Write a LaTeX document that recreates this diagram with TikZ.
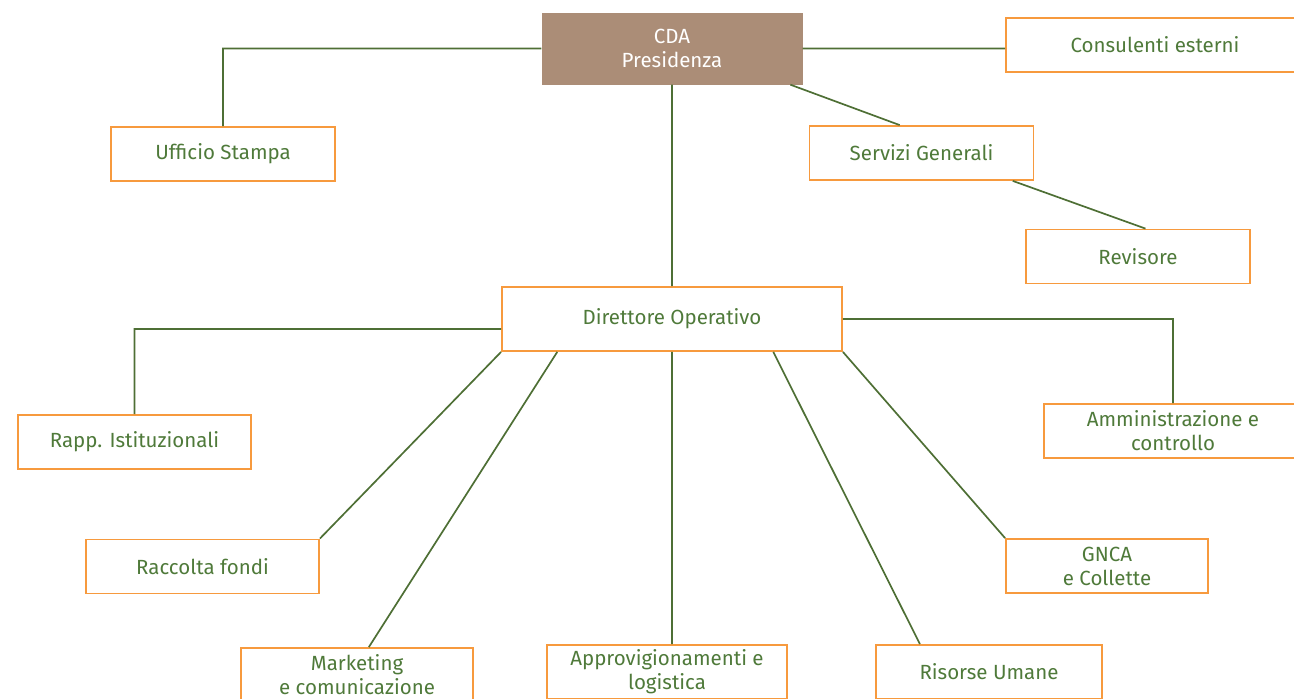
\documentclass[tikz,border=0pt]{standalone}
\usepackage{fontspec}
\setmainfont{Fira Sans}
\usepackage{tikz}
\usetikzlibrary{positioning}

\definecolor{boxorange}{HTML}{F79A3E}
\definecolor{textgreen}{HTML}{4F7A3A}
\definecolor{linegreen}{HTML}{4E6F35}
\definecolor{cdabrown}{HTML}{AB8D77}

\begin{document}
\begin{tikzpicture}[x=1pt,y=-1pt,on grid,
    unit/.style={draw=boxorange,line width=1.8pt,fill=white,text=textgreen,
      minimum width=224pt,minimum height=54pt,align=center,inner sep=0pt,
      font=\fontsize{20.5}{24}\selectfont},
    top/.style={fill=cdabrown,text=white,minimum width=261pt,minimum height=72pt,
      align=center,inner sep=0pt,font=\fontsize{20.5}{24}\selectfont},
    link/.style={draw=linegreen,line width=1.7pt}]
    \useasboundingbox (0,0) rectangle (1294,699);
    \node[top] (cda) at (672,48.5) {CDA\\Presidenza};
    \node[unit,minimum width=298pt] (cons) at (1155,45) {Consulenti esterni};
    \node[unit] (uff)  at (223,154)   {Ufficio Stampa};
    \node[unit] (serv) at (921.5,153) {Servizi Generali};
    \node[unit] (rev)  at (1138,256.5){Revisore};
    \node[unit,minimum width=340pt,minimum height=64pt] (dir) at (672,319) {Direttore Operativo};
    \node[unit,minimum width=233pt] (rapp) at (134.5,442) {Rapp. Istituzionali};
    \node[unit,minimum width=258pt] (amm)  at (1173,431)  {Amministrazione e\\controllo};
    \node[unit,minimum width=233pt] (racc) at (202.5,566.5) {Raccolta fondi};
    \node[unit,minimum width=202pt] (gnca) at (1107,566)  {GNCA\\e Collette};
    \node[unit,minimum width=232pt] (mark) at (357,675)   {Marketing\\e comunicazione};
    \node[unit,minimum width=240pt] (appr) at (667,672)   {Approvigionamenti e\\logistica};
    \node[unit,minimum width=226pt] (ris)  at (989,672)   {Risorse Umane};
    \path[link]
    % top level
    (cda.west) -| (uff.north)
    (cda.east) -- (cda.east -| cons.west)
    (cda.-17.2) -- (serv.128.5)
    (serv.-17) -- (rev.75.5)
    (cda.south) -- (dir.north)
    % sides of the director
    ([yshift=-10pt]dir.west) -| (rapp.north)
    (dir.east) -| (amm.north)
    % below the director
    (dir.south west) -- (racc.north east)
    (dir.196.2) -- (mark.67.8)
    (dir.south) -- (dir.south |- appr.north)
    (dir.-18.6) -- (ris.158.3)
    (dir.south east) -- (gnca.north west);
  \end{tikzpicture}
\end{document}
